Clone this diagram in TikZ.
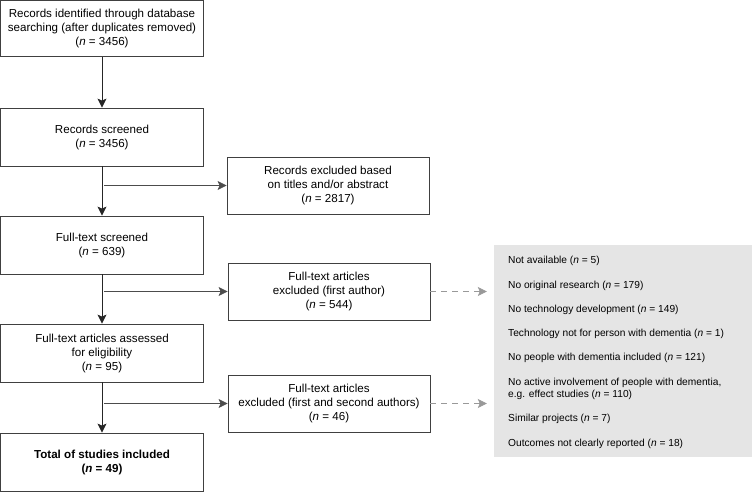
\documentclass[tikz,border=0pt]{standalone}
\usepackage{fontspec}
\setmainfont{Liberation Sans}
\usetikzlibrary{arrows.meta}

\tikzset{
  box/.style={draw=black!75,line width=0.8pt,minimum width=203pt,minimum height=57pt,
    align=center,inner sep=0pt,font=\fontsize{11.6}{14}\selectfont},
  flow/.style={draw=black!85,line width=0.9pt,-{Stealth[length=9pt,width=9pt,inset=2pt]}},
  side/.style={draw=black!70,line width=0.8pt,-{Stealth[length=9pt,width=9pt,inset=2pt]}},
  aside/.style={draw=black!40,line width=0.8pt,dash pattern=on 6pt off 5pt,
    -{Stealth[length=9pt,width=9pt,inset=2pt]},shorten >=7pt},
  reason/.style={anchor=west,inner sep=0pt,font=\fontsize{10.2}{12}\selectfont,align=left}
}

\begin{document}
\begin{tikzpicture}[x=1pt,y=-1pt]
  \useasboundingbox (0,0) rectangle (752,492);

  % main column
  \node[box,minimum height=56pt] (ident) at (102,28.75)
    {Records identified through database\\searching (after duplicates removed)\\(\textit{n} = 3456)};
  \node[box,minimum height=58pt] (screen) at (102,137) {Records screened\\(\textit{n} = 3456)};
  \node[box,minimum height=58pt] (full) at (102,245) {Full-text screened\\(\textit{n} = 639)};
  \node[box,minimum height=58pt] (elig) at (102,353)
    {Full-text articles assessed\\for eligibility\\(\textit{n} = 95)};
  \node[box,minimum height=58pt] (total) at (102,462)
    {\textbf{Total of studies included}\\\textbf{(\textit{n} = 49)}};

  % exclusions
  \node[box,minimum width=202pt] (excl1) at (328,185.5)
    {Records excluded based\\on titles and/or abstract\\(\textit{n} = 2817)};
  \node[box,minimum width=202pt] (excl2) at (329,291.5)
    {Full-text articles\\excluded (first author)\\(\textit{n} = 544)};
  \node[box,minimum width=202pt] (excl3) at (329,403.5)
    {Full-text articles\\excluded (first and second authors)\\(\textit{n} = 46)};

  % reasons
  \node[fill=black!10,minimum width=258pt,minimum height=212pt,inner sep=0pt] (reasons) at (623,351) {};
  \foreach[count=\i] \y/\txt in {261/{Not available (\textit{n} = 5)},
      286/{No original research (\textit{n} = 179)},
      310/{No technology development (\textit{n} = 149)},
      334/{Technology not for person with dementia (\textit{n} = 1)},
      358/{No people with dementia included (\textit{n} = 121)},
      389/{No active involvement of people with dementia,\\e.g. effect studies (\textit{n} = 110)},
      419/{Similar projects (\textit{n} = 7)},
      444/{Outcomes not clearly reported (\textit{n} = 18)}} {
    \node[reason] (r\i) at (508,\y) {\txt};
  }

  \draw[flow] (ident) -- (screen);
  \draw[flow] (screen) -- (full);
  \draw[flow] (full) -- (elig);
  \draw[flow] (elig) -- (total);

  \draw[side] ([xshift=2pt]screen.south |- excl1.west) -- (excl1.west);
  \draw[side] ([xshift=2pt]full.south |- excl2.west) -- (excl2.west);
  \draw[side] ([xshift=2pt]elig.south |- excl3.west) -- (excl3.west);

  \draw[aside] (excl2.east) -- (excl2.east -| reasons.west);
  \draw[aside] (excl3.east) -- (excl3.east -| reasons.west);
\end{tikzpicture}
\end{document}
